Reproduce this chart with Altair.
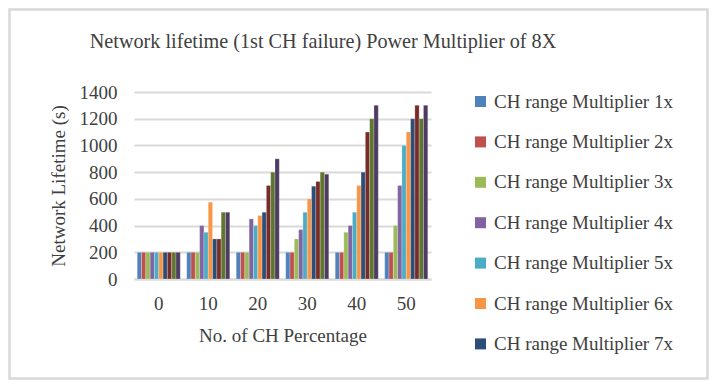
import altair as alt
import pandas as pd

groups = ["0", "10", "20", "30", "40", "50"]
series = [f"CH range Multiplier {i}x" for i in range(1, 11)]

m1 = [200, 200, 200, 200, 200, 200]
m2 = [200, 200, 200, 200, 200, 200]
m3 = [200, 200, 200, 300, 350, 400]
m4 = [200, 400, 450, 370, 400, 700]
m5 = [200, 350, 400, 500, 500, 1000]
m6 = [200, 575, 475, 600, 700, 1100]
m7 = [200, 300, 500, 695, 800, 1200]
m8 = [200, 300, 700, 730, 1100, 1300]
m9 = [200, 500, 800, 800, 1200, 1200]
m10 = [200, 500, 900, 785, 1300, 1300]

colors = ["#4F81BD", "#C0504D", "#9BBB59", "#8064A2", "#4BACC6",
          "#F79646", "#2C4D75", "#772C2A", "#5F7530", "#4D3B62"]

title_text = "Network lifetime (1st CH failure) Power Multiplier of 8X"

all_vals = [m1, m2, m3, m4, m5, m6, m7, m8, m9, m10]
rows = []
for s, vals in zip(series, all_vals):
    for g, v in zip(groups, vals):
        rows.append({"group": g, "series": s, "value": v})
df = pd.DataFrame(rows)

FONT = "Liberation Serif"
TXT = "#404040"
W, H = 297, 187
PL, PT = 126, 84
PR = 701 - PL - W
PB = 372 - PT - H

bars = alt.Chart(df).mark_bar(stroke="white", strokeWidth=0.4, strokeOpacity=0.6).encode(
    x=alt.X("group:N", sort=groups,
            scale=alt.Scale(paddingInner=0.13, paddingOuter=0.065),
            axis=alt.Axis(title="No. of CH Percentage", labelAngle=0,
                          labelBaseline="middle", labelPadding=24, ticks=False,
                          domainColor="#D9D9D9", domainWidth=2,
                          titleBaseline="middle", titleY=56)),
    xOffset=alt.XOffset("series:N", sort=series,
                        scale=alt.Scale(paddingInner=0, paddingOuter=0)),
    y=alt.Y("value:Q", scale=alt.Scale(domain=[0, 1400]),
            axis=alt.Axis(title="Network Lifetime (s)", values=list(range(0, 1401, 200)),
                          format="d",
                          ticks=False, domain=False, labelPadding=17,
                          gridColor="#D9D9D9", gridWidth=2,
                          titleAngle=-90, titleBaseline="middle", titleAlign="center",
                          titleX=-76, titleY=H / 2)),
    color=alt.Color("series:N", sort=series,
                    scale=alt.Scale(domain=series, range=colors),
                    legend=alt.Legend(title=None, orient="none", legendX=337, legendY=0,
                                      values=series[:7], symbolType="square",
                                      symbolSize=121, symbolStrokeWidth=0,
                                      labelFont=FONT, labelFontSize=19,
                                      labelColor=TXT, rowPadding=20.4,
                                      labelOffset=4, labelLimit=400)),
)

border = alt.Chart(pd.DataFrame({"a": [0]})).mark_rect(
    filled=False, stroke="#D9D9D9", strokeWidth=2.5).encode(
    x=alt.value(-PL + 1.5), x2=alt.value(W + PR - 1.5),
    y=alt.value(-PT + 1.5), y2=alt.value(H + PB - 1.5))

title = alt.Chart(pd.DataFrame({"t": [title_text]})).mark_text(
    font=FONT, fontSize=20.2, color=TXT, align="center", baseline="middle").encode(
    text="t:N", x=alt.value(189), y=alt.value(-50))

chart = alt.layer(border, bars, title).properties(
    width=W, height=H,
    autosize=alt.AutoSizeParams(type="none"),
    padding={"left": PL, "top": PT, "right": PR, "bottom": PB},
).configure_view(stroke=None).configure_axis(
    labelFont=FONT, labelFontSize=19, labelColor=TXT,
    titleFont=FONT, titleFontSize=19, titleColor=TXT, titleFontWeight="normal",
)

chart.save("out.html", embed_options={"renderer": "svg", "actions": False})
